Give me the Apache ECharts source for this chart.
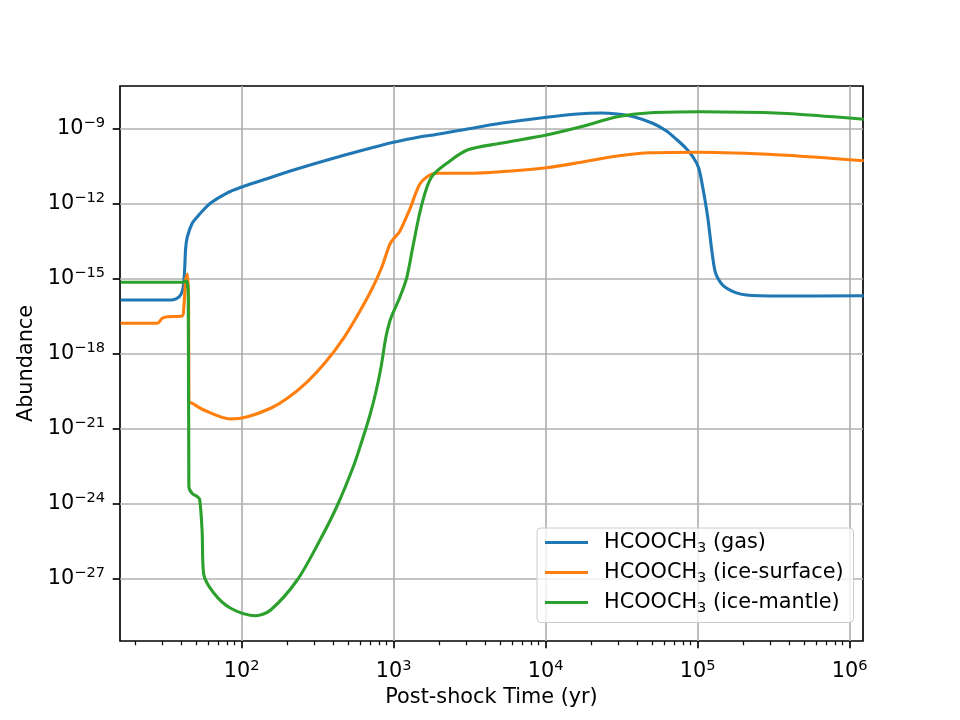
<!DOCTYPE html>
<html>
<head>
<meta charset="utf-8">
<script src="https://cdn.jsdelivr.net/npm/echarts@6/dist/echarts.min.js"></script>
<style>
  html, body { margin: 0; padding: 0; background: #fff; }
  #chart { width: 960px; height: 720px; }
</style>
</head>
<body>
<div id="chart"></div>
<script>
// values are log10 of post-shock time (yr) and log10 of abundance
const gasLogT = [1.204, 1.533, 1.572, 1.599, 1.616, 1.625, 1.632, 1.643, 1.676, 1.709, 1.730, 1.796, 1.906, 2.005, 2.125, 2.342, 2.564, 2.783, 3.0, 3.178, 3.263, 3.485, 3.704, 4.005, 4.209, 4.362, 4.472, 4.579, 4.704, 4.790, 4.862, 4.928, 4.974, 5.007, 5.033, 5.066, 5.099, 5.123, 5.189, 5.320, 5.546, 6.092];
const gasLogA = [-15.84, -15.84, -15.78, -15.64, -15.32, -14.64, -13.76, -13.31, -12.76, -12.51, -12.36, -11.96, -11.55, -11.31, -11.07, -10.64, -10.24, -9.87, -9.53, -9.31, -9.24, -9.0, -8.77, -8.53, -8.40, -8.36, -8.40, -8.51, -8.77, -9.06, -9.42, -9.80, -10.16, -10.56, -11.31, -12.51, -14.11, -14.84, -15.36, -15.64, -15.68, -15.67];

const surfLogT = [1.204, 1.445, 1.478, 1.511, 1.609, 1.620, 1.632, 1.643, 1.651, 1.653, 1.675, 1.752, 1.928, 2.038, 2.191, 2.301, 2.432, 2.553, 2.679, 2.778, 2.863, 2.922, 2.975, 3.008, 3.041, 3.107, 3.173, 3.238, 3.288, 3.485, 3.704, 4.005, 4.252, 4.472, 4.691, 5.020, 5.546, 6.092];
const surfLogA = [-16.77, -16.77, -16.57, -16.51, -16.48, -16.11, -15.04, -14.80, -15.84, -19.91, -19.97, -20.24, -20.60, -20.51, -20.17, -19.77, -19.11, -18.32, -17.29, -16.29, -15.33, -14.53, -13.61, -13.33, -13.09, -12.20, -11.20, -10.84, -10.77, -10.77, -10.71, -10.55, -10.31, -10.08, -9.95, -9.93, -10.04, -10.27];

const mantLogT = [1.204, 1.620, 1.636, 1.649, 1.653, 1.675, 1.709, 1.724, 1.740, 1.750, 1.818, 1.928, 2.092, 2.191, 2.366, 2.515, 2.625, 2.734, 2.791, 2.844, 2.883, 2.916, 2.949, 2.975, 2.995, 3.041, 3.087, 3.126, 3.173, 3.219, 3.258, 3.350, 3.485, 3.704, 4.005, 4.252, 4.472, 4.691, 5.020, 5.546, 6.092];
const mantLogA = [-15.13, -15.13, -15.07, -15.58, -23.31, -23.58, -23.71, -23.81, -25.05, -26.79, -27.57, -28.17, -28.47, -28.24, -27.04, -25.45, -24.12, -22.52, -21.49, -20.45, -19.53, -18.57, -17.33, -16.69, -16.37, -15.73, -14.93, -13.73, -12.33, -11.33, -10.85, -10.37, -9.84, -9.57, -9.24, -8.88, -8.51, -8.35, -8.31, -8.37, -8.61];

const seriesNames = ['gas', 'ice-surface', 'ice-mantle'];
const seriesColors = ['#1f77b4', '#ff7f0e', '#2ca02c'];

const xMajorTicks = [2, 3, 4, 5, 6];
const yMajorTicks = [-27, -24, -21, -18, -15, -12, -9];
const xRange = [1.200, 6.088];
const yRange = [-29.48, -7.279];

// minor ticks at 2..9 × 10^n on the log time axis
const xMinorTicks = [];
for (let n = 1; n <= 6; n++) {
  for (let k = 2; k <= 9; k++) {
    const v = n + Math.log10(k);
    if (v > xRange[0] && v < xRange[1]) xMinorTicks.push(v);
  }
}

const FONT = 'DejaVu Sans';
const powRich = {
  b: { fontFamily: FONT, fontSize: 20.8, lineHeight: 26, color: '#000' },
  s: { fontFamily: FONT, fontSize: 14.6, lineHeight: 16, verticalAlign: 'top', color: '#000' }
};
const powLabel = v => '{b|10}{s|' + String(Math.round(v)).replace('-', '\u2212') + '}';

const zip = (a, b) => a.map((v, i) => [v, b[i]]);
const dataSets = [zip(gasLogT, gasLogA), zip(surfLogT, surfLogA), zip(mantLogT, mantLogA)];

const chart = echarts.init(document.getElementById('chart'), null, { renderer: 'canvas' });

chart.setOption({
  animation: false,
  backgroundColor: '#fff',
  grid: {
    left: 120, right: 97, top: 86, bottom: 79,
    show: true, borderColor: '#000', borderWidth: 1.67, backgroundColor: 'transparent'
  },
  legend: {
    orient: 'vertical',
    left: 537, top: 528,
    padding: [4, 10, 7, 8],
    itemGap: 6.5,
    itemWidth: 43, itemHeight: 3,
    icon: 'rect',
    backgroundColor: 'rgba(255,255,255,0.8)',
    borderColor: '#cccccc', borderWidth: 1, borderRadius: 4,
    data: seriesNames.map(n => 'HCOOCH3 (' + n + ')'),
    formatter: name => '{h|HCOOCH}{sub|3}{n|\u00a0' + name.slice(8) + '}',
    textStyle: {
      rich: {
        h: { fontFamily: FONT, fontSize: 20.8, lineHeight: 26, color: '#000', padding: [0, 0, 0, 11] },
        n: { fontFamily: FONT, fontSize: 20.8, lineHeight: 26, color: '#000' },
        sub: { fontFamily: FONT, fontSize: 14.6, lineHeight: 10, verticalAlign: 'bottom', color: '#000' }
      }
    }
  },
  xAxis: [{
    type: 'value',
    min: xRange[0], max: xRange[1],
    name: 'Post-shock Time (yr)',
    nameLocation: 'middle',
    nameGap: 44,
    nameTextStyle: { fontFamily: FONT, fontSize: 20.8, color: '#000' },
    axisLine: { show: false },
    axisTick: { show: true, customValues: xMajorTicks, length: 7.3, lineStyle: { color: '#000', width: 1.67 } },
    axisLabel: { customValues: xMajorTicks, margin: 18, formatter: powLabel, rich: powRich },
    splitLine: { show: true, lineStyle: { color: '#b0b0b0', width: 1.67 } }
  }, {
    type: 'value',
    position: 'bottom',
    min: xRange[0], max: xRange[1],
    axisLine: { show: false },
    axisTick: { show: true, customValues: xMinorTicks, length: 4.2, lineStyle: { color: '#000', width: 1.25 } },
    axisLabel: { show: false },
    splitLine: { show: false }
  }],
  yAxis: {
    type: 'value',
    min: yRange[0], max: yRange[1],
    name: 'Abundance',
    nameLocation: 'middle',
    nameGap: 82,
    nameTextStyle: { fontFamily: FONT, fontSize: 20.8, color: '#000' },
    axisLine: { show: false },
    axisTick: { show: true, customValues: yMajorTicks, length: 7.3, lineStyle: { color: '#000', width: 1.67 } },
    axisLabel: { customValues: yMajorTicks, margin: 15, formatter: powLabel, rich: powRich },
    splitLine: { show: true, lineStyle: { color: '#b0b0b0', width: 1.67 } }
  },
  series: seriesNames.map((n, i) => ({
    name: 'HCOOCH3 (' + n + ')',
    type: 'line',
    xAxisIndex: 0,
    data: dataSets[i],
    showSymbol: false,
    symbol: 'none',
    smooth: 0.3,
    color: seriesColors[i],
    lineStyle: { color: seriesColors[i], width: 3.1 },
    z: 3 + i
  }))
});
</script>
</body>
</html>
